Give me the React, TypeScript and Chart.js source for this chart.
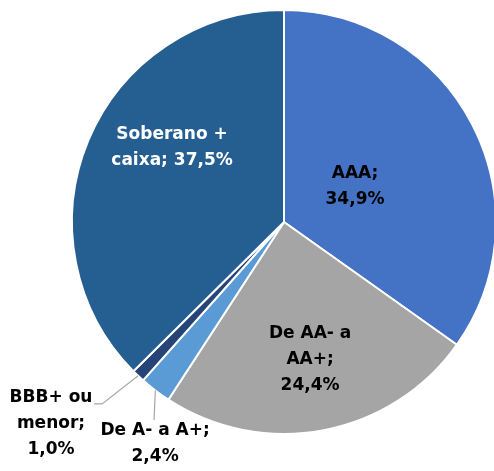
import React, { useEffect, useRef } from "react";
import { Chart, registerables } from "chart.js";

Chart.register(...registerables);

const categories = ["AAA", "De AA- a AA+", "De A- a A+", "BBB+ ou menor", "Soberano + caixa"];
const values = [34.9, 24.4, 2.4, 1.0, 37.5];
const labelLines = [
  ["AAA;", "34,9%"],
  ["De AA- a", "AA+;", "24,4%"],
  ["De A- a A+;", "2,4%"],
  ["BBB+ ou", "menor;", "1,0%"],
  ["Soberano +", "caixa; 37,5%"],
];
const colors = ["#4472C4", "#A5A5A5", "#5B9BD5", "#264478", "#255E91"];

// label placement relative to pie center, in units of radius
const labelPos = [
  { x: 0.335, y: -0.165, color: "#000000" },
  { x: 0.123, y: 0.648, color: "#000000" },
  { x: -0.608, y: 1.047, color: "#000000" },
  { x: -1.099, y: 0.953, color: "#000000" },
  { x: -0.528, y: -0.35, color: "#FFFFFF" },
];
const leaders: Record<number, { x: number; y: number }[]> = {
  2: [{ x: -0.613, y: 0.934 }],
  3: [{ x: -0.858, y: 0.858 }, { x: -0.896, y: 0.858 }],
};

const FONT = "bold 17px 'DejaVu Sans'";
const LINE_H = 26;

const labelPlugin = {
  id: "sliceLabels",
  afterDatasetsDraw(chart: any) {
    const ctx = chart.ctx;
    const meta = chart.getDatasetMeta(0);
    meta.data.forEach((arc: any, i: number) => {
      const { x: cx, y: cy, outerRadius: R, startAngle, endAngle } = arc.getProps(
        ["x", "y", "outerRadius", "startAngle", "endAngle"],
        true
      );
      const lead = leaders[i];
      if (lead) {
        const mid = (startAngle + endAngle) / 2;
        ctx.save();
        ctx.strokeStyle = "#A6A6A6";
        ctx.lineWidth = 1.2;
        ctx.beginPath();
        ctx.moveTo(cx + R * Math.cos(mid), cy + R * Math.sin(mid));
        lead.forEach((p) => ctx.lineTo(cx + R * p.x, cy + R * p.y));
        ctx.stroke();
        ctx.restore();
      }
      const p = labelPos[i];
      const lines = labelLines[i];
      const lx = cx + R * p.x;
      const ly = cy + R * p.y;
      ctx.save();
      ctx.font = FONT;
      ctx.fillStyle = p.color;
      ctx.textAlign = "center";
      ctx.textBaseline = "middle";
      const top = ly - ((lines.length - 1) * LINE_H) / 2;
      lines.forEach((t, k) => ctx.fillText(t, lx, top + k * LINE_H));
      ctx.restore();
    });
  },
};

export default function App() {
  const ref = useRef<HTMLCanvasElement>(null);
  useEffect(() => {
    if (!ref.current) return;
    const chart = new Chart(ref.current, {
      type: "pie",
      data: {
        labels: categories,
        datasets: [
          {
            data: values,
            backgroundColor: colors,
            borderColor: "#FFFFFF",
            borderWidth: 2,
          },
        ],
      },
      options: {
        responsive: false,
        animation: false,
        radius: 212,
        layout: { padding: { left: 74, right: 0, top: 12, bottom: 39 } },
        plugins: {
          legend: { display: false },
          tooltip: { enabled: false },
        },
      } as any,
      plugins: [labelPlugin],
    });
    return () => chart.destroy();
  }, []);
  return (
    <div style={{ position: "fixed", left: 0, top: 0, width: 494, height: 471, background: "#fff" }}>
      <canvas ref={ref} width={494} height={471} />
    </div>
  );
}
